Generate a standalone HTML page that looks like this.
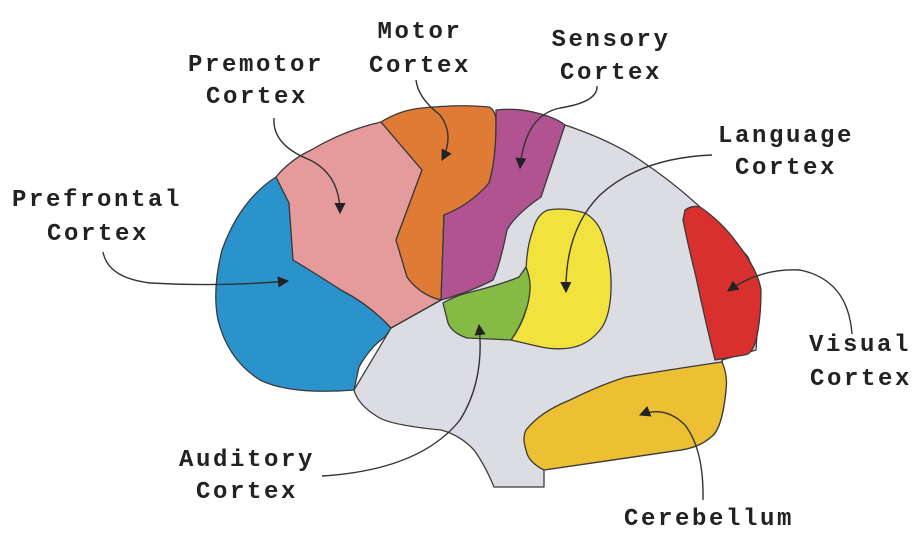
<!DOCTYPE html>
<html><head><meta charset="utf-8">
<style>
html,body{margin:0;padding:0;background:#fff;}
svg{display:block;}
.lbl{font-family:"Liberation Mono","Courier New",monospace;font-weight:bold;font-size:24px;letter-spacing:2.6px;fill:#222;text-anchor:middle;}
.reg{stroke:#3a3a3a;stroke-width:1.3;stroke-linejoin:round;}
.arr{fill:none;stroke:#333;stroke-width:1.4;}
</style></head>
<body>
<svg width="924" height="544" viewBox="0 0 924 544">
<defs>
<marker id="ah" viewBox="0 0 10 10" refX="9" refY="5" markerWidth="8" markerHeight="8" orient="auto-start-reverse">
<path d="M0,0 L10,5 L0,10 z" fill="#222"/>
</marker>
</defs>
<!-- gray base -->
<path class="reg" fill="#dcdce3" d="M565,125 Q610,140 640,160 Q700,200 748,257 Q762,290 759,303 L756,350 L722,360 L726,390 Q722,430 711,437 Q700,447 681,450 L544,470 L544,487 L494,487 Q485,465 474,450 Q460,435 441,430 Q390,425 378,417 Q358,405 354,390 L391,328 L441,300 Z"/>
<path class="reg" fill="#2a93cb" d="M276,177 Q240,200 222,250 Q212,290 218,320 Q228,360 260,380 Q290,395 354,390 L359,367 Q370,347 385,337 L391,328 Q370,305 341,290 Q310,270 293,260 L289,203 Z"/>
<path class="reg" fill="#e59b9c" d="M276,177 Q290,160 311,150 Q345,130 381,122 L422,170 L396,240 L407,277 Q420,295 441,300 L391,328 Q370,305 341,290 Q310,270 293,260 L289,203 Z"/>
<path class="reg" fill="#e07b35" d="M381,122 Q400,110 422,108 Q460,104 489,107 Q496,110 496,123 Q496,160 489,183 Q470,205 444,215 L441,300 Q420,295 407,277 L396,240 L422,170 Z"/>
<path class="reg" fill="#b05390" d="M496,110 Q515,108 533,112 Q555,117 565,125 L541,197 Q515,215 507,230 Q500,265 493,280 Q470,292 441,300 L444,215 Q470,205 489,183 Q496,160 496,123 Z"/>
<path class="reg" fill="#d7302f" d="M685,210 Q692,205 700,207 Q722,222 737,243 Q758,270 761,290 Q761,320 756,340 Q752,355 744,355 L715,360 Q705,320 696,277 Q688,245 683,220 Z"/>
<path class="reg" fill="#ecc032" d="M722,362 Q728,375 726,390 Q722,430 711,437 Q700,447 681,450 L544,470 Q528,462 526,450 Q522,438 526,430 Q540,412 570,400 Q600,385 626,377 Q680,368 722,362 Z"/>
<path class="reg" fill="#f2e23e" d="M548,210 Q565,207 585,213 Q600,222 604,240 Q612,265 611,290 Q610,318 600,330 Q588,345 570,348 Q555,350 541,347 L511,340 Q522,325 526,310 L526,270 Q527,245 533,230 Q537,214 548,210 Z"/>
<path class="reg" fill="#85ba44" d="M443,303 Q455,296 467,293 Q500,285 519,277 L526,267 Q531,280 530,290 Q529,302 526,310 Q520,328 511,340 L467,338 Q452,333 448,323 Z"/>
<!-- arrows -->
<path class="arr" marker-end="url(#ah)" d="M274,118 Q272,145 310,160 Q340,175 340,213"/>
<path class="arr" marker-end="url(#ah)" d="M416,80 Q418,98 440,115 Q455,135 442,160"/>
<path class="arr" marker-end="url(#ah)" d="M597,86 Q598,102 560,108 Q525,115 520,168"/>
<path class="arr" marker-end="url(#ah)" d="M712,155 Q640,158 600,195 Q565,230 566,292"/>
<path class="arr" marker-end="url(#ah)" d="M103,252 Q108,278 150,283 Q220,287 288,281"/>
<path class="arr" marker-end="url(#ah)" d="M852,334 Q848,280 800,270 Q760,268 728,291"/>
<path class="arr" marker-end="url(#ah)" d="M322,476 Q420,470 460,420 Q485,380 479,325"/>
<path class="arr" marker-end="url(#ah)" d="M703,500 Q704,450 685,425 Q665,405 640,415"/>
<!-- labels -->
<text class="lbl" x="256" y="71">Premotor</text>
<text class="lbl" x="257" y="103">Cortex</text>
<text class="lbl" x="420" y="38">Motor</text>
<text class="lbl" x="420" y="72">Cortex</text>
<text class="lbl" x="611" y="46">Sensory</text>
<text class="lbl" x="611" y="79">Cortex</text>
<text class="lbl" x="786" y="142">Language</text>
<text class="lbl" x="786" y="174">Cortex</text>
<text class="lbl" x="97" y="206">Prefrontal</text>
<text class="lbl" x="98" y="240">Cortex</text>
<text class="lbl" x="860" y="351">Visual</text>
<text class="lbl" x="861" y="385">Cortex</text>
<text class="lbl" x="247" y="466">Auditory</text>
<text class="lbl" x="247" y="498">Cortex</text>
<text class="lbl" x="709" y="525">Cerebellum</text>
</svg>
</body></html>
